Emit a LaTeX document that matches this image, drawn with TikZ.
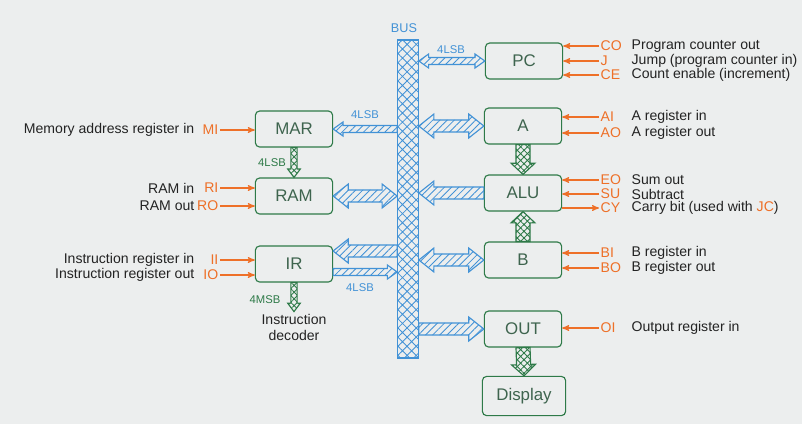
\documentclass[tikz,border=0pt]{standalone}
\usepackage{fontspec}
\setmainfont{Liberation Sans}
\usetikzlibrary{arrows,calc,patterns.meta,positioning}

\definecolor{boxgreen}{RGB}{46,122,72}
\definecolor{boxtext}{RGB}{62,100,78}
\definecolor{busblue}{RGB}{66,146,214}
\definecolor{sigorange}{RGB}{238,112,40}
\definecolor{board}{RGB}{236,238,238}
\definecolor{ink}{RGB}{35,35,35}

% fat hatched arrows drawn as outlines between two points
\tikzset{
  fat w/.store in=\fatw, fat hw/.store in=\fathw, fat hl/.store in=\fathl,
  fat w=4.3pt, fat hw=8.5pt, fat hl=10.7pt,
  one way/.style={to path={
    ($(\tikztostart)!\fatw!90:(\tikztotarget)$)
    -- ($(\tikztotarget)!\fathl!(\tikztostart)!\fatw!90:(\tikztotarget)$)
    -- ($(\tikztotarget)!\fathl!(\tikztostart)!\fathw!90:(\tikztotarget)$)
    -- (\tikztotarget)
    -- ($(\tikztotarget)!\fathl!(\tikztostart)!\fathw!-90:(\tikztotarget)$)
    -- ($(\tikztotarget)!\fathl!(\tikztostart)!\fatw!-90:(\tikztotarget)$)
    -- ($(\tikztostart)!\fatw!-90:(\tikztotarget)$) -- cycle}},
  two way/.style={to path={
    (\tikztostart)
    -- ($(\tikztostart)!\fathl!(\tikztotarget)!\fathw!90:(\tikztotarget)$)
    -- ($(\tikztostart)!\fathl!(\tikztotarget)!\fatw!90:(\tikztotarget)$)
    -- ($(\tikztotarget)!\fathl!(\tikztostart)!\fatw!90:(\tikztotarget)$)
    -- ($(\tikztotarget)!\fathl!(\tikztostart)!\fathw!90:(\tikztotarget)$)
    -- (\tikztotarget)
    -- ($(\tikztotarget)!\fathl!(\tikztostart)!\fathw!-90:(\tikztotarget)$)
    -- ($(\tikztotarget)!\fathl!(\tikztostart)!\fatw!-90:(\tikztotarget)$)
    -- ($(\tikztostart)!\fathl!(\tikztotarget)!\fatw!-90:(\tikztotarget)$)
    -- ($(\tikztostart)!\fathl!(\tikztotarget)!\fathw!-90:(\tikztotarget)$)
    -- cycle}},
  busarrow/.style={draw=busblue,thick,pattern={Lines[angle=45,distance=3.6pt,line width=0.6pt]},
    pattern color=busblue},
  thinbus/.style={busarrow,fat w=2.5pt,fat hw=5pt,fat hl=7pt},
  grnarrow/.style={draw=boxgreen,thick,pattern={Hatch[angle=45,distance=3.4pt,line width=0.6pt]},
    pattern color=boxgreen,fat w=5pt,fat hw=8.5pt,fat hl=8pt},
  thingrn/.style={grnarrow,fat w=2.2pt,fat hw=4.5pt,fat hl=6pt}
}

\begin{document}
\begin{tikzpicture}[x=0.025cm,y=-0.025cm,->,>=stealth',
    reg/.style={draw=boxgreen,thick,rounded corners=3pt,minimum width=1.93cm,
      minimum height=0.9cm,text=boxtext,font=\fontsize{12}{14}\selectfont},
    sig/.style={text=sigorange,font=\fontsize{10}{12}\selectfont,inner sep=1pt},
    desc/.style={text=ink,font=\fontsize{10}{11}\selectfont,inner sep=1pt},
    ctl/.style={draw=sigorange,thick},
    buslbl/.style={text=busblue,font=\fontsize{8}{9}\selectfont},
    grnlbl/.style={text=boxgreen,font=\fontsize{8}{9}\selectfont}]

  \fill[board] (0,0) rectangle (802,424);
  \useasboundingbox (0,0) rectangle (802,424);

  % registers
  \node[reg] (PC) at (524,61) {PC};
  \node[reg] (A) at (523,126) {A};
  \node[reg] (ALU) at (523,193) {ALU};
  \node[reg] (B) at (523,260) {B};
  \node[reg] (OUT) at (523,329) {OUT};
  \node[reg,minimum width=2.08cm,minimum height=0.98cm] (disp) at (524,396) {Display};
  \node[reg] (MAR) at (294,129) {MAR};
  \node[reg] (RAM) at (294,196) {RAM};
  \node[reg] (IR) at (294,264) {IR};

  % bus
  \node[draw=busblue,thick,pattern={Hatch[angle=45,distance=4.6pt,line width=0.6pt]},
    pattern color=busblue,inner sep=0,
    minimum width=0.52cm,minimum height=7.95cm] (bus) at (408,199) {};
  \node[text=busblue,font=\fontsize{9}{10}\selectfont] (buslabel) at (404,28) {BUS};

  \coordinate (bPC) at (bus.east |- PC.west);
  \coordinate (bA) at (bus.east |- A.west);
  \coordinate (bALU) at (bus.east |- ALU.west);
  \coordinate (bB) at (bus.east |- B.west);
  \coordinate (bOUT) at (bus.east |- OUT.west);
  \coordinate (bMAR) at (bus.west |- MAR.east);
  \coordinate (bRAM) at (bus.west |- RAM.east);
  \coordinate (bIRin) at ($(bus.west |- IR.east)+(0,-13)$);
  \coordinate (IRin) at ($(IR.east)+(0,-13)$);
  \coordinate (bIRout) at ($(bus.west |- IR.east)+(0,8)$);
  \coordinate (IRout) at ($(IR.east)+(0,8)$);

  \draw[thinbus,two way] (bPC) to (PC.west);
  \draw[busarrow,two way] (bA) to (A.west);
  \draw[busarrow,one way] (ALU.west) to (bALU);
  \draw[busarrow,two way] (bB) to (B.west);
  \draw[busarrow,one way] (bOUT) to (OUT.west);
  \draw[thinbus,one way] (bMAR) to (MAR.east);
  \draw[busarrow,two way] (RAM.east) to (bRAM);
  \draw[busarrow,one way] (bIRin) to (IRin);
  \draw[thinbus,one way] (IRout) to (bIRout);

  \node[buslbl] (lsbpc) at (451,50) {4LSB};
  \node[buslbl] (lsbmar) at (365,115) {4LSB};
  \node[buslbl] (lsbir) at (360,288) {4LSB};

  % inner paths
  \coordinate (dec) at ($(IR.south)+(0,29)$);
  \draw[grnarrow,one way] (A.south) to (ALU.north);
  \draw[grnarrow,one way] (B.north) to (ALU.south);
  \draw[grnarrow,one way] (OUT.south) to (disp.north);
  \draw[thingrn,one way] (MAR.south) to (RAM.north);
  \draw[thingrn,one way] (IR.south) to (dec);
  \node[grnlbl] (lsbram) at (272,163) {4LSB};
  \node[grnlbl] (msbir) at (265,300) {4MSB};
  \node[desc,align=center,below=1pt of dec] (decoder) {Instruction\\decoder};

  % control signals, right side
  \node[sig,anchor=west] (CO) at (599,46) {CO};
  \node[sig,anchor=west] (J) at (599,61) {J};
  \node[sig,anchor=west] (CE) at (599,75) {CE};
  \node[sig,anchor=west] (AI) at (599,117) {AI};
  \node[sig,anchor=west] (AO) at (599,133) {AO};
  \node[sig,anchor=west] (EO) at (599,180) {EO};
  \node[sig,anchor=west] (SU) at (599,194) {SU};
  \node[sig,anchor=west] (CY) at (599,208) {CY};
  \node[sig,anchor=west] (BI) at (599,253) {BI};
  \node[sig,anchor=west] (BO) at (599,268) {BO};
  \node[sig,anchor=west] (OI) at (599,328) {OI};

  \draw[ctl] (CO.west) -- (CO.west -| PC.east);
  \draw[ctl] (J.west) -- (J.west -| PC.east);
  \draw[ctl] (CE.west) -- (CE.west -| PC.east);
  \draw[ctl] (AI.west) -- (AI.west -| A.east);
  \draw[ctl] (AO.west) -- (AO.west -| A.east);
  \draw[ctl] (EO.west) -- (EO.west -| ALU.east);
  \draw[ctl] (SU.west) -- (SU.west -| ALU.east);
  \draw[ctl] (CY.west -| ALU.east) -- (CY.west);
  \draw[ctl] (BI.west) -- (BI.west -| B.east);
  \draw[ctl] (BO.west) -- (BO.west -| B.east);
  \draw[ctl] (OI.west) -- (OI.west -| OUT.east);

  \node[desc,anchor=west] (dCO) at (630,46) {Program counter out};
  \node[desc,anchor=west] (dJ) at (630,61) {Jump (program counter in)};
  \node[desc,anchor=west] (dCE) at (630,75) {Count enable (increment)};
  \node[desc,anchor=west] (dAI) at (630,117) {A register in};
  \node[desc,anchor=west] (dAO) at (630,133) {A register out};
  \node[desc,anchor=west] (dEO) at (630,180) {Sum out};
  \node[desc,anchor=west] (dSU) at (630,194) {Subtract};
  \node[desc,anchor=west] (dCY) at (630,208) {Carry bit (used with \textcolor{sigorange}{JC})};
  \node[desc,anchor=west] (dBI) at (630,253) {B register in};
  \node[desc,anchor=west] (dBO) at (630,268) {B register out};
  \node[desc,anchor=west] (dOI) at (630,328) {Output register in};

  % control signals, left side
  \node[sig,anchor=east] (MI) at (220,130) {MI};
  \node[sig,anchor=east] (RI) at (220,188) {RI};
  \node[sig,anchor=east] (RO) at (220,206) {RO};
  \node[sig,anchor=east] (II) at (220,260) {II};
  \node[sig,anchor=east] (IO) at (220,275) {IO};

  \draw[ctl] (MI.east) -- (MI.east -| MAR.west);
  \draw[ctl] (RI.east) -- (RI.east -| RAM.west);
  \draw[ctl] (RO.east) -- (RO.east -| RAM.west);
  \draw[ctl] (II.east) -- (II.east -| IR.west);
  \draw[ctl] (IO.east) -- (IO.east -| IR.west);

  \node[desc,anchor=east] (dMI) at (196,130) {Memory address register in};
  \node[desc,anchor=east] (dRI) at (196,188) {RAM in};
  \node[desc,anchor=east] (dRO) at (196,206) {RAM out};
  \node[desc,anchor=east] (dII) at (196,260) {Instruction register in};
  \node[desc,anchor=east] (dIO) at (196,275) {Instruction register out};

\end{tikzpicture}
\end{document}
